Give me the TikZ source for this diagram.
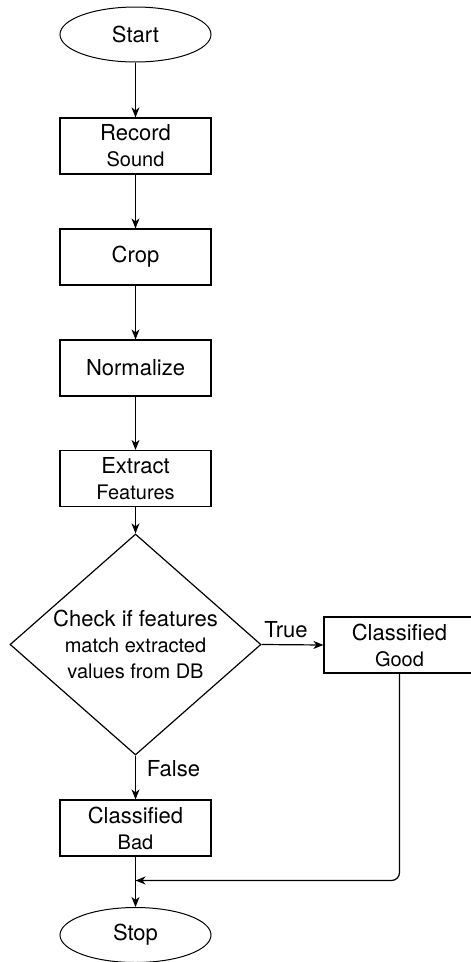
\documentclass[tikz,border=0pt]{standalone}
\usepackage{fontspec}
\setmainfont{TeX Gyre Heros}
\usetikzlibrary{shapes.geometric,arrows.meta}
\begin{document}
\begin{tikzpicture}[x=1pt,y=-1pt,
  line width=1.2pt,
  bigfont/.style={font=\fontsize{22}{26}\selectfont},
  stepbox/.style={draw, rectangle, minimum width=151pt, minimum height=56pt, inner sep=0pt, align=center, bigfont},
  term/.style={draw, ellipse, line width=1pt, minimum width=151pt, minimum height=55pt, inner sep=0pt, bigfont},
  decision/.style={draw, diamond, shape aspect=1.136, minimum width=251pt, minimum height=221pt, inner sep=0pt, align=center, bigfont},
  lbl/.style={inner sep=0pt, bigfont},
  arr/.style={-{Stealth[length=10pt,width=8pt,inset=3pt]}}
]
\useasboundingbox (0,0) rectangle (471,962);
\newcommand{\sm}[1]{{\fontsize{20}{26}\selectfont #1}}
\node[term] (start) at (135.5,34.5) {Start};
\node[stepbox] (rec) at (135.5,146) {Record\\\sm{Sound}};
\node[stepbox] (crop) at (135.5,257) {Crop};
\node[stepbox] (norm) at (135.5,368) {Normalize};
\node[stepbox] (ext) at (135.5,478.5) {Extract\\\sm{Features}};
\node[decision] (dec) at (135.5,644.5) {Check if features\\\sm{match extracted}\\\sm{values from DB}};
\node[stepbox] (good) at (399.5,645) {Classified\\\sm{Good}};
\node[stepbox] (bad) at (135.5,828) {Classified\\\sm{Bad}};
\node[term] (stop) at (135.5,935) {Stop};
\coordinate (m) at (135.5,880.5);
\node[lbl] (tlbl) at (286,630) {True};
\node[lbl] (flbl) at (173.5,769) {False};
\draw[arr] (start) -- (rec);
\draw[arr] (rec) -- (crop);
\draw[arr] (crop) -- (norm);
\draw[arr] (norm) -- (ext);
\draw[arr] (ext) -- (dec);
\draw[arr] (dec.east) -- (good.west);
\draw[arr] (dec.south) -- (bad.north);
\draw[arr] (bad) -- (stop);
\draw[arr, rounded corners=8pt] (good.south) |- (m);
\end{tikzpicture}
\end{document}
